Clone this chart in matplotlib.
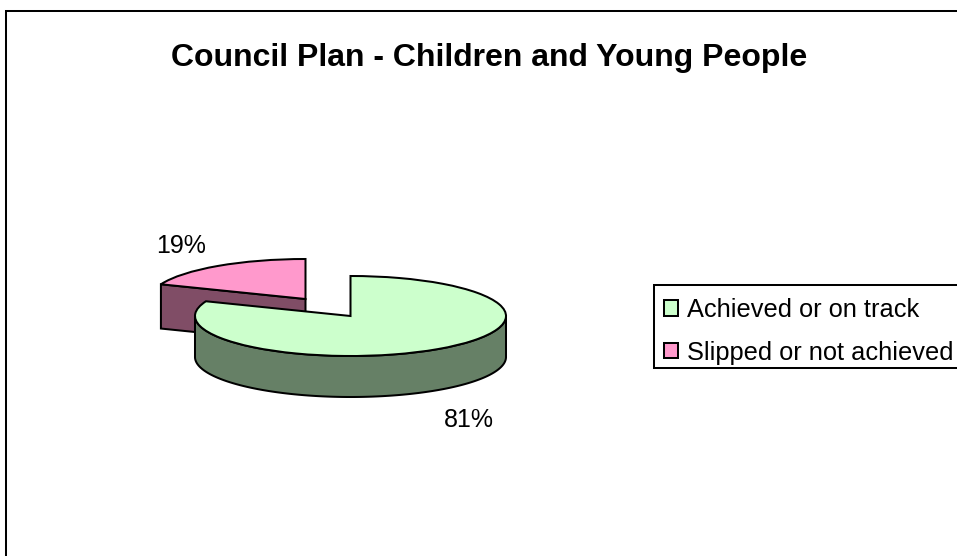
import numpy as np
import matplotlib
matplotlib.use("Agg")
import matplotlib.pyplot as plt
from matplotlib.patches import Patch, Polygon, Rectangle

plt.rcParams['font.family'] = ['Liberation Sans', 'DejaVu Sans']

title = "Council Plan - Children and Young People"
categories = ["Achieved or on track", "Slipped or not achieved"]
shares = [81, 19]
face_colors = ["#CCFFCC", "#FF99CC"]
wall_colors = ["#668066", "#804D66"]

W, H = 957, 556
CX, CY, RX, RY = 350.5, 316.0, 155.5, 40.0
DEPTH = 41.0
EXPLODE_PX = (-45.0, -17.0)
LW = 1.45

fig = plt.figure(figsize=(W / 100, H / 100), dpi=100, facecolor="white")

# Overlay in pixel coordinates for frame and text
ov = fig.add_axes([0, 0, 1, 1], zorder=0)
ov.set_xlim(0, W)
ov.set_ylim(H, 0)
ov.axis("off")
ov.plot([6, 6, W], [H, 11, 11], color="black", lw=LW, solid_joinstyle="miter")
ov.text(489.5, 58, title, ha="center", va="center", fontsize=23, fontweight="bold", color="black")

# Pie axes: data unit = one ellipse radius, so the pie's circle squashes to an ellipse
ax = fig.add_axes([0, 0, 1, 1], zorder=1)
ax.patch.set_alpha(0)
wedges, _ = ax.pie(shares, colors=face_colors, startangle=90, counterclock=False,
                   radius=1, center=(0, 0),
                   wedgeprops=dict(edgecolor="black", linewidth=LW, joinstyle="miter"))
ax.set_aspect("auto")
ax.set_xlim((0 - CX) / RX, (W - CX) / RX)
ax.set_ylim((CY - H) / RY, CY / RY)
ax.axis("off")

dep = DEPTH / RY
off = (EXPLODE_PX[0] / RX, -EXPLODE_PX[1] / RY)

# Angle where the two slices meet, from the data
split = np.deg2rad(90 - 360 * shares[0] / sum(shares))

# Slipped slice: cut wall on the front of the slice
wedges[1].set_center(off)
ex, ey = off[0] + np.cos(split), off[1] + np.sin(split)
cut = [(ex, ey), off, (off[0], off[1] - dep * 1.08), (ex, ey - dep * 1.08)]
ax.add_patch(Polygon(cut, closed=True, facecolor=wall_colors[1], edgecolor="black",
                     linewidth=LW, joinstyle="miter", zorder=2))
wedges[1].set_zorder(3)

# Achieved slice: outer wall along the front of the ellipse
t = np.linspace(np.pi, 2 * np.pi, 200)
top = np.c_[np.cos(t), np.sin(t)]
bottom = (top - [0, dep])[::-1]
ax.add_patch(Polygon(np.r_[top, bottom], closed=True, facecolor=wall_colors[0],
                     edgecolor="black", linewidth=LW, joinstyle="miter", zorder=4))
wedges[0].set_zorder(5)

ov2 = fig.add_axes([0, 0, 1, 1], zorder=2)
ov2.set_xlim(0, W)
ov2.set_ylim(H, 0)
ov2.axis("off")
ov2.patch.set_alpha(0)
ov2.text(181.5, 246, f"{shares[1]}%", ha="center", va="center", fontsize=18, color="black")
ov2.text(468.5, 420, f"{shares[0]}%", ha="center", va="center", fontsize=18, color="black")

# Legend frame runs off the right edge of the picture
ov2.add_patch(Rectangle((654, 285), 320, 83, facecolor="white", edgecolor="black",
                        linewidth=LW, zorder=1))
handles = [Patch(facecolor=c, edgecolor="black", linewidth=LW) for c in face_colors]
leg = ov2.legend(handles, categories, loc="upper left",
                 bbox_to_anchor=(664 / W, 1 - 298 / H), bbox_transform=fig.transFigure,
                 fontsize=18.3, frameon=False, borderpad=0, labelspacing=0.73,
                 handlelength=0.55, handleheight=0.55, handletextpad=0.35, borderaxespad=0)
leg.set_zorder(2)

fig.savefig("out.png", dpi=100, facecolor="white")
